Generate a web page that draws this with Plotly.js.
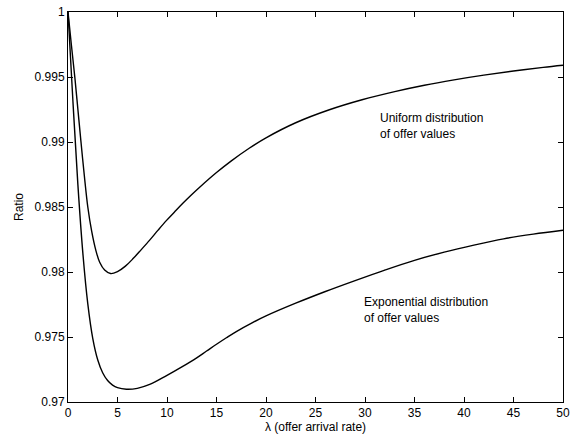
<!DOCTYPE html>
<html>
<head>
<meta charset="utf-8">
<script src="https://cdn.plot.ly/plotly-3.0.1.min.js"></script>
<style>html,body{margin:0;padding:0;background:#fff;}#chart{width:570px;height:437px;}</style>
</head>
<body>
<div id="chart"></div>
<script>
// Uniform distribution of offer values
const uniformX = [0, 0.35, 0.7, 1.0, 1.3, 1.65, 2.0, 2.4, 2.8, 3.2, 3.7, 4.3, 5.0, 5.8, 6.6, 7.4, 8.25, 9.1, 9.93, 10.8, 11.6, 12.4, 13.3, 15, 16.5, 18.3, 20, 23, 26.4, 29.7, 33, 36, 39, 42, 45, 48, 50];
const uniformY = [1.0, 0.9974, 0.9949, 0.9925, 0.9901, 0.9874, 0.9850, 0.9831, 0.9817, 0.98075, 0.98015, 0.97988, 0.98003, 0.98045, 0.98105, 0.98172, 0.98245, 0.98322, 0.98395, 0.98465, 0.98528, 0.98588, 0.98652, 0.98765, 0.98855, 0.98952, 0.99032, 0.99148, 0.99248, 0.99325, 0.99388, 0.99437, 0.99478, 0.99514, 0.99546, 0.99574, 0.9959];
// Exponential distribution of offer values
const expX = [0, 0.5, 1.0, 1.5, 2.0, 2.5, 3.0, 3.5, 4.0, 4.5, 5.0, 5.9, 7, 8.25, 10, 11.5, 13, 14, 15, 16, 17, 18.5, 20, 23, 26, 29, 32, 35, 38, 41, 44, 47, 50];
const expY = [1.0, 0.9931, 0.9867, 0.98145, 0.97755, 0.9749, 0.97325, 0.97225, 0.97165, 0.9713, 0.9711, 0.97098, 0.97105, 0.97135, 0.97205, 0.9727, 0.9734, 0.97392, 0.97444, 0.97494, 0.97542, 0.97605, 0.97662, 0.9776, 0.9785, 0.97934, 0.98015, 0.9809, 0.98153, 0.98207, 0.98255, 0.98291, 0.98321];
const xTicks = [0, 5, 10, 15, 20, 25, 30, 35, 40, 45, 50];
const yTicks = [0.97, 0.975, 0.98, 0.985, 0.99, 0.995, 1];
const yTickText = ['0.97', '0.975', '0.98', '0.985', '0.99', '0.995', '1'];
const labels = ['Uniform distribution<br>of offer values', 'Exponential distribution<br>of offer values'];

const font = {family: 'Liberation Sans, Arial, Helvetica, sans-serif', size: 12, color: '#000'};
const traces = [
  {x: uniformX, y: uniformY, mode: 'lines', line: {color: '#000', width: 1.4, shape: 'spline', smoothing: 1}, hoverinfo: 'skip'},
  {x: expX, y: expY, mode: 'lines', line: {color: '#000', width: 1.4, shape: 'spline', smoothing: 1}, hoverinfo: 'skip'}
];
const axisCommon = {
  showgrid: false, zeroline: false, showline: true, linecolor: '#000', linewidth: 1,
  mirror: 'ticks', ticks: 'inside', ticklen: 5, tickcolor: '#000', tickwidth: 1,
  tickfont: font, ticklabeloverflow: 'allow'
};
const layout = {
  width: 570, height: 437,
  margin: {l: 68, r: 7, t: 12, b: 35},
  paper_bgcolor: '#fff', plot_bgcolor: '#fff',
  showlegend: false,
  font: font,
  xaxis: Object.assign({}, axisCommon, {range: [0, 50], tickvals: xTicks, ticktext: xTicks.map(String),
    title: {text: 'λ (offer arrival rate)', font: font, standoff: 3}}),
  yaxis: Object.assign({}, axisCommon, {range: [0.97, 1], tickvals: yTicks, ticktext: yTickText,
    title: {text: 'Ratio', font: font, standoff: 8}}),
  annotations: [
    {x: 31.3, y: 0.99123, xref: 'x', yref: 'y', text: labels[0], showarrow: false, xanchor: 'left', yanchor: 'middle', align: 'left', font: font},
    {x: 29.7, y: 0.97708, xref: 'x', yref: 'y', text: labels[1], showarrow: false, xanchor: 'left', yanchor: 'middle', align: 'left', font: font}
  ]
};
Plotly.newPlot('chart', traces, layout, {staticPlot: true, displayModeBar: false});
</script>
</body>
</html>
